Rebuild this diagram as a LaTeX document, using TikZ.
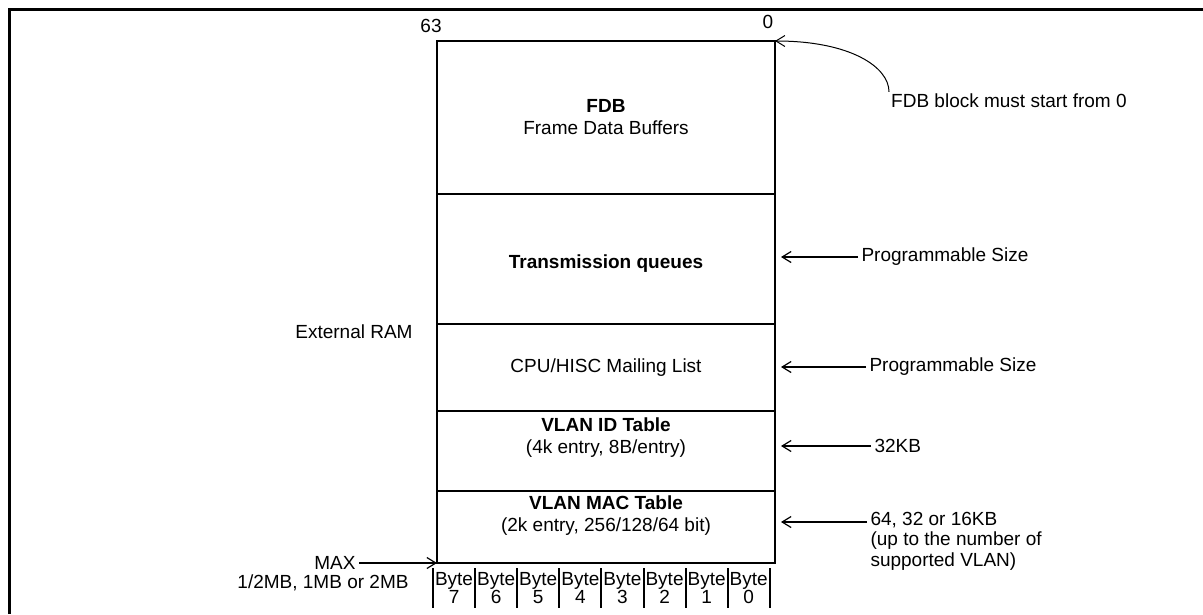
\documentclass[tikz,border=0pt]{standalone}
\usepackage{fontspec}
\setmainfont{Liberation Sans}
\usetikzlibrary{positioning,arrows.meta}

\begin{document}
\begin{tikzpicture}[x=1pt,y=-1pt,
  every node/.style={font=\fontsize{19}{22}\selectfont},
  sect/.style={draw,line width=2pt,minimum width=338pt,inner sep=0pt,outer sep=0pt,align=center},
  bytecell/.style={minimum width=42.1pt,minimum height=40pt,inner sep=0pt,outer sep=0pt,align=center,font=\fontsize{19}{17}\selectfont},
  arr/.style={-{Straight Barb[length=9pt,width=11pt]},line width=1.2pt}]
  \useasboundingbox (0,0) rectangle (1203,614);
  \draw[line width=3pt] (9,614) -- (9,9) -- (1203,9);

  \node[sect,minimum height=153pt] (fdb) at (606,117.5) {\textbf{FDB}\\Frame Data Buffers};
  \node[sect,minimum height=130pt,below=0pt of fdb] (tq) {};
  \node[sect,minimum height=87pt,below=0pt of tq] (cpu) {CPU/HISC Mailing List};
  \node[sect,minimum height=80pt,below=0pt of cpu] (vid) {};
  \node[sect,minimum height=72pt,below=0pt of vid] (mac) {};
  \node (tqtxt) at ([yshift=-5pt]tq.center) {\textbf{Transmission queues}};
  \node[align=center,below=3.5pt of vid.north] (vidtxt) {\textbf{VLAN ID Table}\\(4k entry, 8B/entry)};
  \node[align=center,below=1.5pt of mac.north] (mactxt) {\textbf{VLAN MAC Table}\\(2k entry, 256/128/64 bit)};

  \node (msb) at (431,26) {63};
  \node (lsb) at (768,22) {0};
  \node (ram) at (354,332) {External RAM};

  \node[anchor=west,inner sep=2pt] (note) at (889,101) {FDB block must start from 0};
  \draw[arr,line width=1pt] (note.north west) .. controls +(0,-25) and +(75,0) .. (fdb.north east);

  \node[anchor=west] (tqsz) at (858,257) {Programmable Size};
  \node[anchor=west] (cpusz) at (866,367) {Programmable Size};
  \node[anchor=west] (vidsz) at (871,446) {32KB};
  \node[anchor=north west,align=left,font=\fontsize{19}{20.5}\selectfont] (macsz) at (867,508.5) {64, 32 or 16KB\\(up to the number of\\supported VLAN)};
  \draw[arr,shorten >=6pt] (tqsz.west) -- (tqsz.west -| tq.east);
  \draw[arr,shorten >=6pt] (cpusz.west) -- (cpusz.west -| cpu.east);
  \draw[arr,shorten >=6pt] (vidsz.west) -- (vidsz.west -| vid.east);
  \draw[arr,shorten >=6pt] ([yshift=-13.5pt]macsz.north west) -- ([yshift=-13.5pt]macsz.north west -| mac.east);

  \node[anchor=east] (max) at (359,563) {MAX};
  \node (maxsz) at (323,583) {1/2MB, 1MB or 2MB};
  \draw[arr] (max.east) -- (mac.south west);

  \node[bytecell,anchor=north west] (b7) at (433,568) {Byte\\7};
  \node[bytecell,right=0pt of b7] (b6) {Byte\\6};
  \node[bytecell,right=0pt of b6] (b5) {Byte\\5};
  \node[bytecell,right=0pt of b5] (b4) {Byte\\4};
  \node[bytecell,right=0pt of b4] (b3) {Byte\\3};
  \node[bytecell,right=0pt of b3] (b2) {Byte\\2};
  \node[bytecell,right=0pt of b2] (b1) {Byte\\1};
  \node[bytecell,right=0pt of b1] (b0) {Byte\\0};
  \draw[line width=2pt] (b7.north west) -- (b7.south west) (b6.north west) -- (b6.south west)
    (b5.north west) -- (b5.south west) (b4.north west) -- (b4.south west)
    (b3.north west) -- (b3.south west) (b2.north west) -- (b2.south west)
    (b1.north west) -- (b1.south west) (b0.north west) -- (b0.south west)
    (b0.north east) -- (b0.south east);
\end{tikzpicture}
\end{document}
